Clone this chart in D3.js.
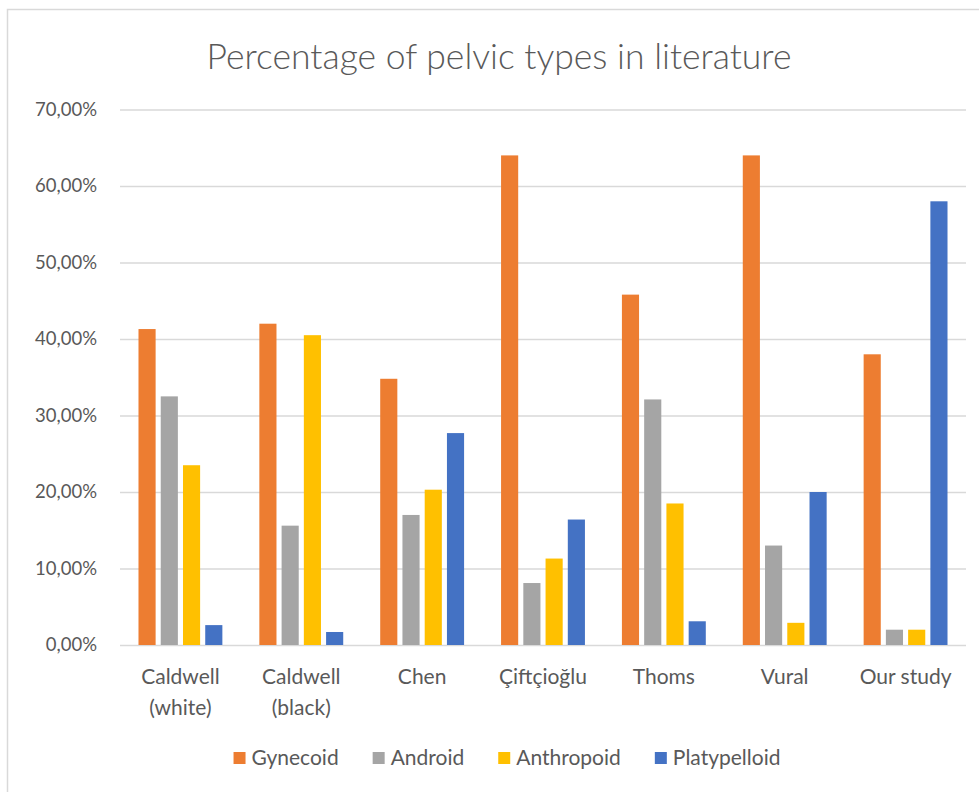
<!DOCTYPE html>
<html>
<head>
<meta charset="utf-8">
<script src="https://cdn.jsdelivr.net/npm/d3@7"></script>
<style>
  html, body { margin: 0; padding: 0; background: #fff; }
  svg { display: block; }
  text { font-family: Lato, "Open Sans", sans-serif; fill: #595959; }
</style>
</head>
<body>
<svg id="chart" width="979" height="792"></svg>
<script>
// Pelvic type shares (%) reported by each study
const categories = ["Caldwell (white)", "Caldwell (black)", "Chen", "Çiftçioğlu", "Thoms", "Vural", "Our study"];
const seriesNames = ["Gynecoid", "Android", "Anthropoid", "Platypelloid"];
const gynecoid     = [41.3, 42.0, 34.8, 64.0, 45.8, 64.0, 38.0];
const android      = [32.5, 15.6, 17.0, 8.1, 32.1, 13.0, 2.0];
const anthropoid   = [23.5, 40.5, 20.3, 11.3, 18.5, 2.9, 2.0];
const platypelloid = [2.6, 1.7, 27.7, 16.4, 3.1, 20.0, 58.0];
const yTicks = [0, 10, 20, 30, 40, 50, 60, 70];
const colors = ["#ED7D31", "#A5A5A5", "#FFC000", "#4472C4"];

const seriesValues = [gynecoid, android, anthropoid, platypelloid];
const rows = categories.map((c, i) => ({
  category: c,
  values: seriesNames.map((s, j) => ({ series: s, value: seriesValues[j][i] }))
}));

const svg = d3.select("#chart");

// chart frame
svg.append("rect")
  .attr("x", 7.5).attr("y", 9.5)
  .attr("width", 1000).attr("height", 1000)
  .attr("fill", "#fff")
  .attr("stroke", "#D9D9D9").attr("stroke-width", 1.5);

const plot = { left: 120, right: 966, top: 109.5, bottom: 645 };

const x0 = d3.scaleBand().domain(categories).range([plot.left, plot.right]).padding(0);
const B = x0.bandwidth();
const outer = B * 0.153;
const x1 = d3.scaleBand().domain(seriesNames).range([outer, B - outer]).paddingInner(0.23).paddingOuter(0);
const y = d3.scaleLinear().domain([0, 70]).range([plot.bottom, plot.top]);
const color = d3.scaleOrdinal().domain(seriesNames).range(colors);

// title
svg.append("text")
  .attr("x", 499).attr("y", 69)
  .attr("text-anchor", "middle")
  .style("font-size", "35.5px").style("font-weight", 300)
  .text("Percentage of pelvic types in literature");

// gridlines + y labels
const fmt = v => d3.format(".2f")(v).replace(".", ",") + "%";
const yAxis = d3.axisLeft(y).tickValues(yTicks)
  .tickSize(-(plot.right - plot.left)).tickPadding(23).tickFormat(fmt);
const gy = svg.append("g").attr("transform", `translate(${plot.left},0)`).call(yAxis);
gy.select(".domain").remove();
gy.selectAll(".tick line").attr("stroke", "#D9D9D9").attr("stroke-width", 1.5);
gy.selectAll(".tick text").style("font-size", "18.5px").attr("fill", "#595959")
  .style("font-family", "Lato, sans-serif");

// bars
const groups = svg.append("g").selectAll("g").data(rows).join("g")
  .attr("transform", d => `translate(${x0(d.category)},0)`);
groups.selectAll("rect").data(d => d.values).join("rect")
  .attr("x", d => x1(d.series))
  .attr("width", x1.bandwidth())
  .attr("y", d => y(d.value))
  .attr("height", d => y(0) - y(d.value))
  .attr("fill", d => color(d.series));

// category axis, long names wrapped onto two lines
const xAxis = d3.axisBottom(x0).tickSize(0).tickPadding(24);
const gx = svg.append("g").attr("transform", `translate(0,${plot.bottom})`).call(xAxis);
gx.select(".domain").remove();
gx.selectAll(".tick text")
  .style("font-size", "21px").attr("fill", "#595959")
  .style("font-family", "Lato, sans-serif")
  .each(function(d) {
    const t = d3.select(this);
    const words = d.split(" ");
    t.text(null);
    const width = B * 0.92;
    let lines = [words[0]];
    for (let k = 1; k < words.length; k++) {
      const trial = lines[lines.length - 1] + " " + words[k];
      t.text(trial);
      if (this.getComputedTextLength() > width) lines.push(words[k]);
      else lines[lines.length - 1] = trial;
      t.text(null);
    }
    lines.forEach((ln, k) => {
      t.append("tspan").attr("x", 0).attr("dy", k === 0 ? "0.71em" : "1.48em").text(ln);
    });
  });

// legend
const legend = svg.append("g").attr("transform", "translate(0,758)");
const items = legend.selectAll("g").data(seriesNames).join("g");
items.append("rect").attr("width", 12).attr("height", 12).attr("y", -6)
  .attr("fill", d => color(d));
items.append("text").attr("x", 18).attr("dy", "0.35em")
  .style("font-size", "21px").text(d => d);
let cx = 0;
const widths = [];
items.each(function() { widths.push(this.getBBox().width); });
const gap = 34;
const total = d3.sum(widths) + gap * (widths.length - 1);
cx = 507 - total / 2;
items.attr("transform", (d, i) => {
  const tx = cx; cx += widths[i] + gap; return `translate(${tx},0)`;
});
</script>
</body>
</html>
